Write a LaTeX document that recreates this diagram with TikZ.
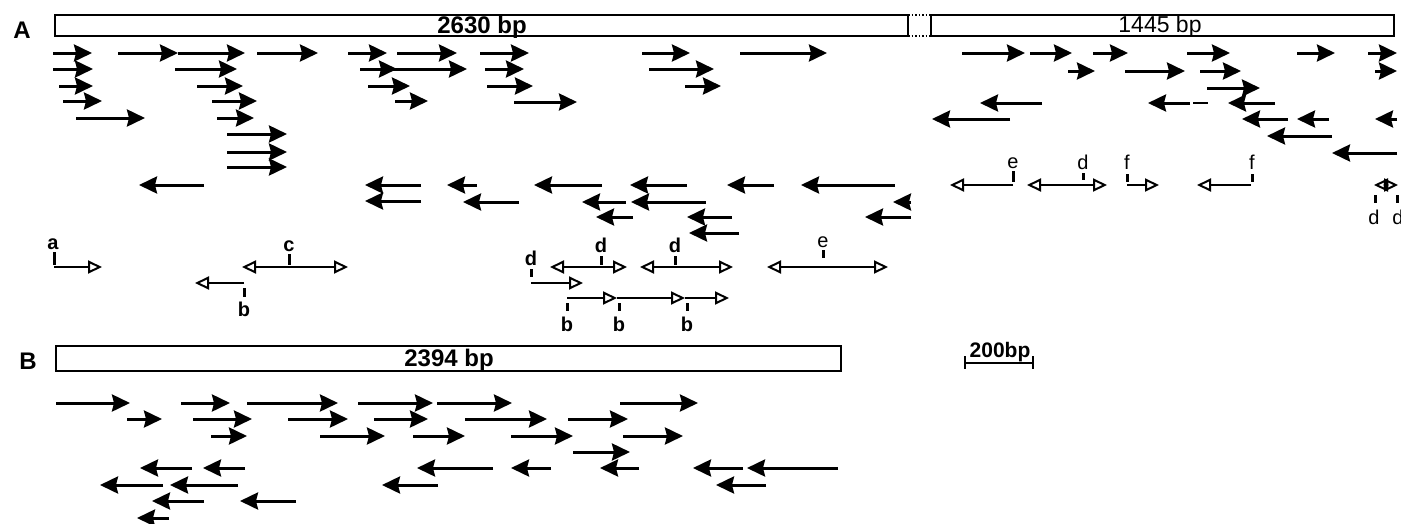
\documentclass[tikz,border=0pt]{standalone}
\usepackage{fontspec}
\setmainfont{Liberation Sans}
\usetikzlibrary{arrows.meta}
\begin{document}
\begin{tikzpicture}[x=1pt,y=-1pt,
  fa/.style={line width=3pt,-{Stealth[length=18pt,width=17pt,inset=2pt]}},
  oa/.style={line width=2pt,-{Triangle[open,length=14pt,width=13pt,line width=2pt]}},
  ob/.style={line width=2pt,{Triangle[open,length=14pt,width=13pt,line width=2pt]}-{Triangle[open,length=14pt,width=13pt,line width=2pt]}},
  sitetick/.style={line width=3pt},
  lab/.style={font=\fontsize{20}{20}\selectfont\bfseries, inner sep=0pt},
  labr/.style={font=\fontsize{20}{20}\selectfont, inner sep=0pt},
  panel/.style={font=\fontsize{24}{24}\selectfont\bfseries, inner sep=0pt},
  bartext/.style={font=\fontsize{24}{24}\selectfont\bfseries, inner sep=0pt},
  bar/.style={draw,line width=2.2pt},
]
\useasboundingbox (0,0) rectangle (1401,523);

% ---------- panel A ----------
\node[panel] (pA) at (22,30) {A};
\draw[bar] (55,15) rectangle (908,36);
\draw[line width=1.5pt,dotted] (908,15) -- (931,15) (908,36) -- (931,36);
\draw[bar] (931,15) rectangle (1394,36);
\node[bartext] (t2630) at (482,27) {2630 bp};
\node[font=\fontsize{23}{23}\selectfont, inner sep=0pt] (t1445) at (1160,27) {1445 bp};

% forward arrows A
\foreach \y/\a/\b in {
 53/53/92, 53/118/178, 53/178/245, 53/257/318, 53/348/387, 53/397/457, 53/480/529,
 53/642/690, 53/740/827, 53/962/1025, 53/1030/1072, 53/1093/1128, 53/1187/1230,
 53/1297/1335, 53/1368/1397,
 69/53/93, 69/175/237, 69/360/397, 69/393/467, 69/485/524, 69/649/714,
 71/1068/1095, 71/1125/1185, 71/1200/1241, 71/1375/1397,
 86/59/93, 86/197/243, 86/368/410, 86/487/533, 86/685/721, 88/1207/1260,
 101/63/102, 101/212/257, 101/395/428, 102/514/577,
 118/76/145, 118/217/254,
 134/227/287, 152/227/287, 167/227/287,
 % backward (from tail to head)
 103/1042/980, 103/1190/1148, 103/1275/1228,
 119/1010/932, 119/1288/1242, 119/1329/1297, 119/1397/1375,
 136/1332/1267, 153/1397/1332,
 185/204/139, 185/421/365, 185/477/447, 185/602/534, 185/687/630, 185/774/727, 185/895/801,
 201/421/365, 202/519/463, 202/626/582, 202/706/631, 202/911/893,
 217/633/596, 217/732/687, 217/911/865,
 233/739/689}
 {\draw[fa] (\a,\y) -- (\b,\y);}
\draw[line width=2.6pt] (1193,103) -- (1208,103);

% restriction fragments A
\node[lab] (la) at (53,244) {a};
\draw[sitetick] (54,252) -- (54,265);
\draw[oa] (54,267) -- (102,267);

\node[lab] (lc) at (289,246) {c};
\draw[sitetick] (289,254) -- (289,265);
\draw[ob] (242,267) -- (348,267);

\draw[oa] (244,283) -- (195,283);
\draw[sitetick] (244,288) -- (244,297);
\node[lab] (lb1) at (244,309) {b};

\node[lab] (ld1) at (531,258) {d};
\draw[sitetick] (531,269) -- (531,277);
\draw[oa] (531,283) -- (583,283);

\node[lab] (ld2) at (601,245) {d};
\draw[sitetick] (601,256) -- (601,265);
\draw[ob] (550,267) -- (627,267);

\node[lab] (ld3) at (675,245) {d};
\draw[sitetick] (675,256) -- (675,265);
\draw[ob] (640,267) -- (733,267);

\node[labr] (le1) at (823,242) {e};
\draw[sitetick] (823,250) -- (823,258);
\draw[ob] (767,267) -- (888,267);

\coordinate (c1) at (567,298);
\coordinate (c2) at (617,298);
\coordinate (c3) at (685,298);
\coordinate (c4) at (729,298);
\draw[oa] (c1) -- (c2);
\draw[oa] (c2) -- (c3);
\draw[oa] (c3) -- (c4);
\foreach \x in {567,619,687}{
  \draw[sitetick] (\x,303) -- (\x,311);
  \node[lab] at (\x,324) {b};
}

% right part
\node[labr] (le2) at (1013,163) {e};
\draw[sitetick] (1013,171) -- (1013,182);
\draw[oa] (1013,185) -- (950,185);

\node[labr] (ld4) at (1083,162) {d};
\draw[sitetick] (1083,173) -- (1083,180);
\draw[ob] (1027,185) -- (1107,185);

\node[labr] (lf1) at (1127,162) {f};
\draw[sitetick] (1127,174) -- (1127,182);
\draw[oa] (1127,185) -- (1159,185);

\node[labr] (lf2) at (1252,162) {f};
\draw[sitetick] (1252,174) -- (1252,182);
\draw[oa] (1251,185) -- (1197,185);

\coordinate (mid) at (1386,185);
\draw[oa] (mid) -- (1374,185);
\draw[oa] (mid) -- (1398,185);
\fill (mid) ellipse (2.5pt and 5pt);
\draw[sitetick] (1375,195) -- (1375,203);
\draw[sitetick] (1397,195) -- (1397,203);
\node[labr] (ld5) at (1374,217) {d};
\node[labr] (ld6) at (1398,217) {d};

% ---------- panel B ----------
\node[panel] (pB) at (28,361) {B};
\draw[bar] (56,346) rectangle (841,371);
\node[bartext] (t2394) at (449,360) {2394 bp};

% scale bar
\draw[line width=2.2pt] (965,363) -- (1033,363);
\draw[line width=2pt] (965,356) -- (965,369) (1033,356) -- (1033,369);
\node[font=\fontsize{21}{21}\selectfont\bfseries, inner sep=0pt] (scale) at (1000,352) {200bp};

\foreach \y/\a/\b in {
 403/56/130, 403/181/230, 403/247/338, 403/358/433, 403/437/512, 403/620/698,
 419/127/162, 419/193/252, 419/288/348, 419/374/428, 419/465/547, 419/568/628,
 436/211/247, 436/320/385, 436/413/465, 436/511/573, 436/623/683,
 452/573/630,
 468/192/140, 468/245/203, 468/493/417, 468/551/511, 468/639/600, 468/743/693, 468/838/747,
 485/163/100, 485/238/170, 485/438/382, 485/766/716,
 501/204/152, 501/296/240,
 518/169/137}
 {\draw[fa] (\a,\y) -- (\b,\y);}
\end{tikzpicture}
\end{document}
